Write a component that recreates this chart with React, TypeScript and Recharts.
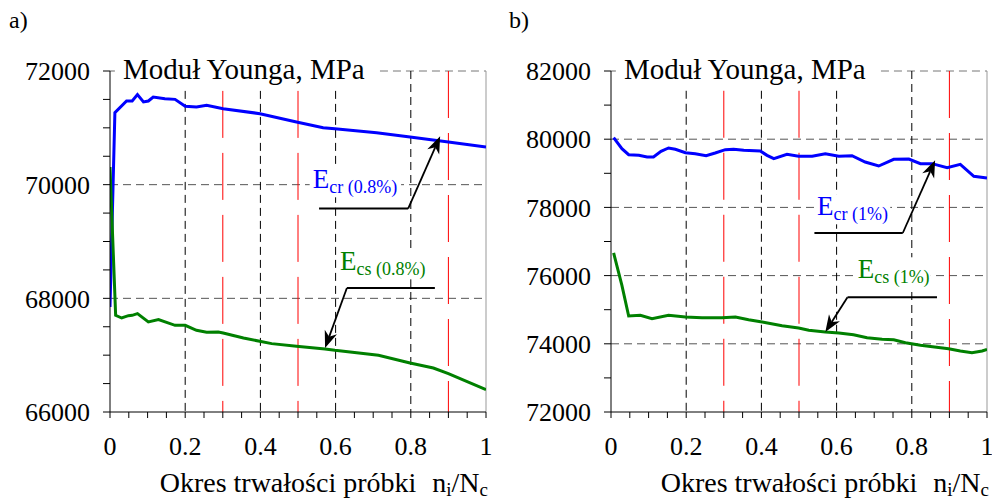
import { LineChart, Line, XAxis, YAxis, ReferenceLine, ReferenceDot } from "recharts";

const FONT = "Liberation Serif, Times New Roman, serif";
const BLUE = "#0000ff";
const GREEN = "#008000";

// a) próbka 0.8%
const crA = [
  { x: 0, y: 67848 }, { x: 0.013, y: 71267 }, { x: 0.044, y: 71472 }, { x: 0.059, y: 71472 },
  { x: 0.073, y: 71584 }, { x: 0.089, y: 71455 }, { x: 0.102, y: 71472 }, { x: 0.115, y: 71543 },
  { x: 0.146, y: 71513 }, { x: 0.173, y: 71501 }, { x: 0.2, y: 71378 }, { x: 0.23, y: 71367 },
  { x: 0.257, y: 71396 }, { x: 0.301, y: 71337 }, { x: 0.399, y: 71249 }, { x: 0.496, y: 71103 },
  { x: 0.567, y: 71003 }, { x: 0.598, y: 70985 }, { x: 0.709, y: 70915 }, { x: 0.798, y: 70839 },
  { x: 0.9, y: 70751 }, { x: 1, y: 70663 },
];
const csA = [
  { x: 0, y: 70311 }, { x: 0.015, y: 67701 }, { x: 0.031, y: 67654 }, { x: 0.049, y: 67695 },
  { x: 0.059, y: 67701 }, { x: 0.073, y: 67730 }, { x: 0.102, y: 67584 }, { x: 0.129, y: 67625 },
  { x: 0.173, y: 67525 }, { x: 0.2, y: 67525 }, { x: 0.23, y: 67437 }, { x: 0.257, y: 67402 },
  { x: 0.288, y: 67408 }, { x: 0.301, y: 67390 }, { x: 0.355, y: 67302 }, { x: 0.43, y: 67203 },
  { x: 0.496, y: 67155 }, { x: 0.572, y: 67109 }, { x: 0.598, y: 67085 }, { x: 0.714, y: 66997 },
  { x: 0.798, y: 66862 }, { x: 0.86, y: 66774 }, { x: 0.9, y: 66675 }, { x: 1, y: 66393 },
];

// b) próbka 1%
const crB = [
  { x: 0.007, y: 80045 }, { x: 0.029, y: 79722 }, { x: 0.047, y: 79546 }, { x: 0.074, y: 79527 },
  { x: 0.096, y: 79478 }, { x: 0.113, y: 79478 }, { x: 0.133, y: 79644 }, { x: 0.153, y: 79742 },
  { x: 0.171, y: 79703 }, { x: 0.198, y: 79605 }, { x: 0.224, y: 79576 }, { x: 0.253, y: 79517 },
  { x: 0.277, y: 79595 }, { x: 0.304, y: 79693 }, { x: 0.326, y: 79703 }, { x: 0.353, y: 79673 },
  { x: 0.397, y: 79654 }, { x: 0.415, y: 79527 }, { x: 0.433, y: 79429 }, { x: 0.468, y: 79556 },
  { x: 0.499, y: 79498 }, { x: 0.535, y: 79498 }, { x: 0.57, y: 79576 }, { x: 0.606, y: 79498 },
  { x: 0.641, y: 79517 }, { x: 0.676, y: 79331 }, { x: 0.712, y: 79214 }, { x: 0.752, y: 79410 },
  { x: 0.792, y: 79419 }, { x: 0.823, y: 79283 }, { x: 0.854, y: 79283 }, { x: 0.894, y: 79165 },
  { x: 0.929, y: 79263 }, { x: 0.965, y: 78911 }, { x: 1, y: 78862 },
];
const csB = [
  { x: 0.007, y: 76663 }, { x: 0.029, y: 75715 }, { x: 0.047, y: 74815 }, { x: 0.078, y: 74835 },
  { x: 0.109, y: 74737 }, { x: 0.153, y: 74835 }, { x: 0.198, y: 74786 }, { x: 0.242, y: 74767 },
  { x: 0.295, y: 74767 }, { x: 0.331, y: 74786 }, { x: 0.366, y: 74708 }, { x: 0.402, y: 74639 },
  { x: 0.455, y: 74532 }, { x: 0.499, y: 74463 }, { x: 0.526, y: 74395 }, { x: 0.57, y: 74346 },
  { x: 0.606, y: 74317 }, { x: 0.645, y: 74268 }, { x: 0.681, y: 74180 }, { x: 0.721, y: 74131 },
  { x: 0.752, y: 74121 }, { x: 0.783, y: 74033 }, { x: 0.823, y: 73955 }, { x: 0.898, y: 73857 },
  { x: 0.929, y: 73789 }, { x: 0.96, y: 73740 }, { x: 0.987, y: 73789 }, { x: 1, y: 73838 },
];

const xTicks = [
  0, 0.05, 0.1, 0.15, 0.2, 0.25, 0.3, 0.35, 0.4, 0.45, 0.5,
  0.55, 0.6, 0.65, 0.7, 0.75, 0.8, 0.85, 0.9, 0.95, 1,
];
const xLabels = [0, 0.2, 0.4, 0.6, 0.8, 1];
const yTicksA = [66000, 66500, 67000, 67500, 68000, 68500, 69000, 69500, 70000, 70500, 71000, 71500, 72000];
const yTicksB = [72000, 73000, 74000, 75000, 76000, 77000, 78000, 79000, 80000, 81000, 82000];
const gridA = [68000, 70000];
const gridB = [74000, 76000, 78000, 80000];
const blackGuides = [0.2, 0.4, 0.6, 0.8];
const redGuides = [0.3, 0.5, 0.9];

const TITLE = "Moduł Younga, MPa";

const notesA = [
  { color: BLUE, sub: "cr (0.8%)", text: { x: 0.539, y: 69936 }, line: [0.556, 0.793, 69579], tip: { x: 0.878, y: 70851 } },
  { color: GREEN, sub: "cs (0.8%)", text: { x: 0.612, y: 68493 }, line: [0.864, 0.63, 68182], tip: { x: 0.572, y: 67126 } },
];
const notesB = [
  { color: BLUE, sub: "cr (1%)", text: { x: 0.548, y: 77768 }, line: [0.541, 0.776, 77249], tip: { x: 0.862, y: 79381 } },
  { color: GREEN, sub: "cs (1%)", text: { x: 0.656, y: 75921 }, line: [0.867, 0.629, 75364], tip: { x: 0.57, y: 74346 } },
];

const fmtX = (v: number) => (xLabels.includes(v) ? String(v) : "");
const fmtY = (v: number) => (v % 2000 === 0 ? String(v) : "");

function Arrow(p: any) {
  const { x1, y1, x2, y2 } = p;
  const a = Math.atan2(y2 - y1, x2 - x1);
  const dx = Math.cos(a), dy = Math.sin(a);
  const L = 17, W = 6.5;
  const bx = x2 - L * dx, by = y2 - L * dy;
  const nx = x2 - 0.7 * L * dx, ny = y2 - 0.7 * L * dy;
  const pts = [
    [x2, y2], [bx - W * dy, by + W * dx], [nx, ny], [bx + W * dy, by - W * dx],
  ].map((q) => q.join(",")).join(" ");
  return (
    <g>
      <line x1={x1} y1={y1} x2={nx} y2={ny} stroke="#000" strokeWidth={1.8} />
      <polygon points={pts} fill="#000" />
    </g>
  );
}

function Panel({ cr, cs, domain, yTicks, grid, guideTop, yWidth, right, notes }: any) {
  const [yMin, yMax] = domain;
  const tickStyle = { fill: "#000", fontSize: 26, style: { fontFamily: FONT } };
  return (
    <LineChart
      width={496}
      height={500}
      margin={{ top: 71, right, bottom: 58, left: 0 }}
      style={{ fontFamily: FONT }}
    >
      <XAxis
        type="number"
        dataKey="x"
        domain={[0, 1]}
        ticks={xTicks}
        interval={0}
        tickFormatter={fmtX}
        tickSize={6}
        tickMargin={19}
        height={30}
        stroke="#000"
        tick={tickStyle}
        allowDataOverflow
        label={(props: any) => {
          const vb = props.viewBox || {};
          return (
            <text x={vb.x + vb.width + 2} y={vb.y + 80} textAnchor="end" fontSize={28} style={{ fontFamily: FONT }} fill="#000">
              Okres trwałości próbki
              <tspan dx={16}>n</tspan>
              <tspan fontSize={19} dy={4}>i</tspan>
              <tspan dy={-4}>/N</tspan>
              <tspan fontSize={19} dy={4}>c</tspan>
            </text>
          );
        }}
      />
      <YAxis
        type="number"
        domain={domain}
        ticks={yTicks}
        interval={0}
        tickFormatter={fmtY}
        width={yWidth}
        tickSize={7}
        tickMargin={13}
        stroke="#000"
        tick={tickStyle}
        allowDataOverflow
      />
      {grid.map((v: number) => (
        <ReferenceLine key={"g" + v} y={v} stroke="#555" strokeDasharray="8 5" />
      ))}
      <ReferenceLine segment={[{ x: 0, y: yMax }, { x: 0.013, y: yMax }]} stroke="#666" />
      <ReferenceLine segment={[{ x: 0.718, y: yMax }, { x: 1, y: yMax }]} stroke="#777" strokeDasharray="8 5" />
      {blackGuides.map((x) => (
        <ReferenceLine key={"b" + x} segment={[{ x, y: x < 0.7 ? guideTop : yMax }, { x, y: yMin }]} stroke="#000" strokeDasharray="8 5" />
      ))}
      {redGuides.map((x) => (
        <ReferenceLine key={"r" + x} segment={[{ x, y: x < 0.7 ? guideTop : yMax }, { x, y: yMin }]} stroke="#ff0000" strokeDasharray="47 15" />
      ))}
      <ReferenceLine x={1} stroke="#999" />
      <Line data={cr} dataKey="y" type="linear" stroke={BLUE} strokeWidth={3} dot={false} isAnimationActive={false} />
      <Line data={cs} dataKey="y" type="linear" stroke={GREEN} strokeWidth={3} dot={false} isAnimationActive={false} />
      {notes.map((n: any, i: number) => (
        <ReferenceLine
          key={"h" + i}
          segment={[{ x: n.line[0], y: n.line[2] }, { x: n.line[1], y: n.line[2] }]}
          stroke="#000"
          strokeWidth={2}
        />
      ))}
      {notes.map((n: any, i: number) => (
        <ReferenceLine
          key={"a" + i}
          segment={[{ x: n.line[1], y: n.line[2] }, n.tip]}
          shape={Arrow}
        />
      ))}
      {notes.map((n: any, i: number) => (
        <ReferenceDot
          key={"t" + i}
          x={n.text.x}
          y={n.text.y}
          r={0}
          shape={(p: any) => {
            const w = 17 + n.sub.length * 7.6;
            return (
              <g>
                <rect x={p.cx - 3} y={p.cy - 21} width={w + 6} height={30} fill="#fff" />
                <text x={p.cx} y={p.cy} fill={n.color} style={{ fontFamily: FONT }}>
                  <tspan fontSize={27}>E</tspan>
                  <tspan fontSize={18} dy={5}>{n.sub}</tspan>
                </text>
              </g>
            );
          }}
        />
      ))}
      <ReferenceDot
        x={0}
        y={yMax}
        r={0}
        shape={(p: any) => (
          <text x={p.cx + 13} y={p.cy + 8} fontSize={29} style={{ fontFamily: FONT }} fill="#000">
            {TITLE}
          </text>
        )}
      />
    </LineChart>
  );
}

export default function App() {
  return (
    <div style={{ position: "absolute", left: 0, top: 0, width: 992, height: 500, background: "#fff", fontFamily: FONT }}>
      <div style={{ position: "absolute", left: 0, top: 0 }}>
        <Panel cr={crA} cs={csA} domain={[66000, 72000]} yTicks={yTicksA} grid={gridA} guideTop={71650} yWidth={110} right={10} notes={notesA} />
      </div>
      <div style={{ position: "absolute", left: 496, top: 0 }}>
        <Panel cr={crB} cs={csB} domain={[72000, 82000]} yTicks={yTicksB} grid={gridB} guideTop={81420} yWidth={115} right={5} notes={notesB} />
      </div>
      <div style={{ position: "absolute", left: 9, top: 8, fontSize: 24, lineHeight: "24px" }}>a)</div>
      <div style={{ position: "absolute", left: 509, top: 8, fontSize: 24, lineHeight: "24px" }}>b)</div>
    </div>
  );
}
